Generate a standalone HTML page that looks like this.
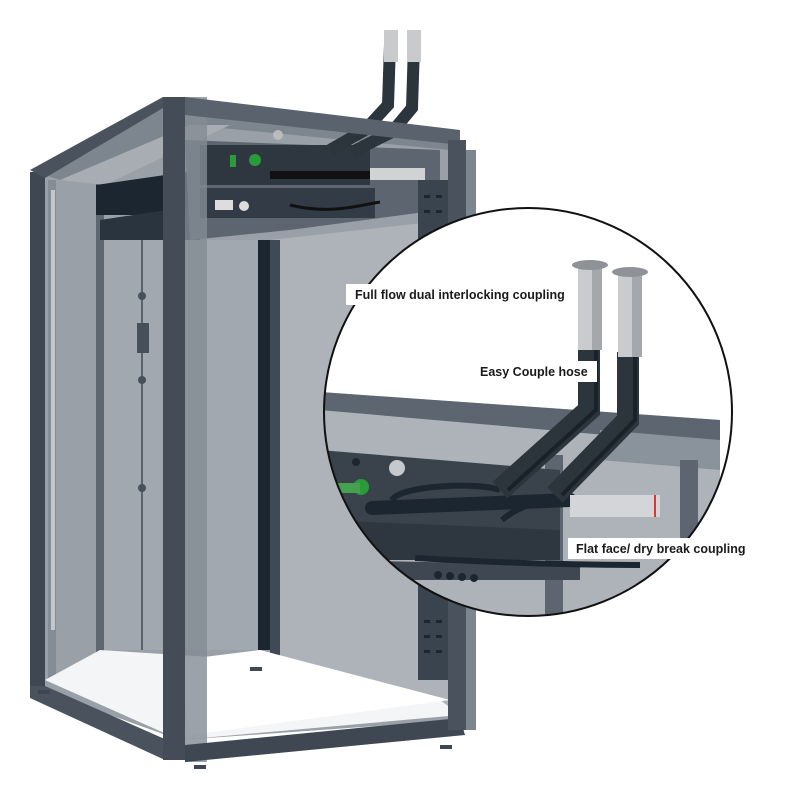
<!DOCTYPE html>
<html><head><meta charset="utf-8"><style>
html,body{margin:0;padding:0;background:#fff}
svg{display:block}
text{font-family:"Liberation Sans",Arial,sans-serif;font-weight:bold;font-size:12.5px;fill:#1a1a1a}
</style></head><body>
<svg width="800" height="800" viewBox="0 0 800 800" xmlns="http://www.w3.org/2000/svg">
<defs>
<clipPath id="cc"><circle cx="528" cy="412" r="204"/></clipPath>
</defs>
<!-- back/inner panels -->
<polygon points="40,178 180,108 460,140 460,720 180,740 40,690" fill="#9aa0a8"/>
<polygon points="100,240 262,240 262,650 100,650" fill="#a2a8b0"/>
<polygon points="270,240 450,220 450,710 270,660" fill="#aeb3ba"/>
<rect x="258" y="240" width="12" height="410" fill="#1b2630"/>
<rect x="270" y="240" width="10" height="420" fill="#3f4a55"/>
<line x1="142" y1="240" x2="142" y2="650" stroke="#5a636d" stroke-width="2"/>
<rect x="137" y="323" width="12" height="30" fill="#46505a"/>
<circle cx="142" cy="296" r="4" fill="#46505a"/><circle cx="142" cy="380" r="4" fill="#46505a"/><circle cx="142" cy="488" r="4" fill="#46505a"/>
<rect x="96" y="180" width="8" height="480" fill="#5e6770"/>
<rect x="48" y="180" width="8" height="500" fill="#848c95"/>
<g fill="#c4c8cd"><rect x="51" y="190" width="4" height="440" /></g>
<!-- floor -->
<polygon points="45,680 180,740 460,715 440,700 260,660 100,650" fill="#f4f5f6"/>
<polygon points="180,660 260,650 450,700 190,735" fill="#fff"/>
<!-- top roof -->
<polygon points="30,170 180,97 460,135 450,150 190,125 60,180" fill="#7d858e"/>
<polygon points="60,180 190,125 230,125 105,185" fill="#a8adb4"/>
<!-- shelf -->
<polygon points="96,185 200,170 200,215 96,215" fill="#1b2630"/>
<polygon points="100,220 200,205 200,240 100,240" fill="#2a343e"/>
<polygon points="185,140 440,150 440,210 290,230 190,240" fill="#5d6670"/>
<rect x="200" y="145" width="170" height="40" fill="#2e3740"/>
<rect x="200" y="188" width="175" height="30" fill="#333c46"/>
<rect x="215" y="200" width="18" height="10" fill="#ddd"/><circle cx="244" cy="206" r="5" fill="#ddd"/>
<circle cx="255" cy="160" r="6" fill="#2a9a3a"/>
<rect x="230" y="155" width="6" height="12" fill="#2a9a3a"/>
<circle cx="278" cy="135" r="5" fill="#bbb"/>
<path d="M270,175 L370,175" stroke="#111" stroke-width="8"/>
<path d="M330,150 L365,130 L388,105 L390,45" stroke="#2c343c" stroke-width="12" fill="none"/>
<path d="M352,152 L392,132 L412,108 L414,45" stroke="#2c343c" stroke-width="12" fill="none"/>
<rect x="384" y="30" width="14" height="32" fill="#c8cacc"/><rect x="407" y="30" width="14" height="32" fill="#c8cacc"/>
<rect x="370" y="168" width="55" height="12" fill="#d0d2d4"/>
<path d="M290,205 C330,215 360,205 380,202" stroke="#111" stroke-width="3" fill="none"/>
<!-- right rail with holes -->
<rect x="418" y="180" width="30" height="500" fill="#3a444e"/>
<g fill="#1b2630">
<rect x="424" y="195" width="6" height="3"/><rect x="436" y="195" width="6" height="3"/>
<rect x="424" y="210" width="6" height="3"/><rect x="436" y="210" width="6" height="3"/>
<rect x="424" y="620" width="6" height="3"/><rect x="436" y="620" width="6" height="3"/>
<rect x="424" y="635" width="6" height="3"/><rect x="436" y="635" width="6" height="3"/>
<rect x="424" y="650" width="6" height="3"/><rect x="436" y="650" width="6" height="3"/>
</g>
<!-- frame posts -->
<polygon points="30,172 45,172 45,690 30,690" fill="#3f4852"/>
<polygon points="30,686 45,686 185,748 185,760 165,760 30,698" fill="#4a535d"/>
<polygon points="163,97 185,97 185,760 163,760" fill="#444d57"/>
<rect x="185" y="97" width="22" height="665" fill="#838b94" opacity="0.8"/>
<polygon points="185,97 460,130 460,145 185,115" fill="#5a636d"/>
<polygon points="185,745 460,718 465,735 185,762" fill="#3f4852"/>
<rect x="448" y="140" width="18" height="590" fill="#4a535d"/>
<rect x="466" y="150" width="10" height="580" fill="#7d858e"/>
<polygon points="30,170 163,97 163,108 45,178" fill="#4a535d"/>
<!-- feet -->
<g fill="#3f4852"><rect x="194" y="765" width="12" height="4"/><rect x="250" y="667" width="12" height="4"/><rect x="38" y="690" width="12" height="4"/><rect x="440" y="745" width="12" height="4"/></g>
<!-- zoom circle -->
<circle cx="528" cy="412" r="204" fill="#fff"/>
<g clip-path="url(#cc)">
<polygon points="320,392 720,420 720,800 320,800" fill="#aeb3ba"/>
<polygon points="320,392 720,420 720,445 320,410" fill="#5d6670"/>
<polygon points="600,430 720,440 720,470 600,460" fill="#8a929b"/>
<rect x="545" y="455" width="18" height="200" fill="#5d6670"/>
<rect x="680" y="460" width="18" height="200" fill="#5d6670"/>
<polygon points="320,450 560,470 560,545 320,545" fill="#3a434c"/>
<polygon points="320,520 560,530 560,560 320,560" fill="#2e3740"/>
<polygon points="320,560 580,565 580,580 320,580" fill="#3f4852"/>
<circle cx="356" cy="462" r="4" fill="#1b2630"/>
<circle cx="397" cy="468" r="8" fill="#c5c8cc"/>
<circle cx="361" cy="487" r="8" fill="#2a9a3a"/>
<rect x="335" y="483" width="25" height="10" fill="#45a050"/>
<path d="M372,508 L570,500" stroke="#1b2630" stroke-width="14" stroke-linecap="round"/>
<path d="M392,500 C400,485 480,482 500,490" stroke="#1b2630" stroke-width="6" fill="none"/>
<path d="M502,520 C520,505 540,500 560,502" stroke="#1b2630" stroke-width="6" fill="none"/>
<path d="M589,345 L589,410 L500,490" stroke="#2c343c" stroke-width="22" fill="none"/>
<path d="M628,352 L628,420 L555,495" stroke="#2c343c" stroke-width="22" fill="none"/>
<path d="M596,345 L596,410 L508,490" stroke="#1a2229" stroke-width="4" fill="none"/>
<path d="M635,352 L635,420 L562,495" stroke="#1a2229" stroke-width="4" fill="none"/>
<rect x="578" y="265" width="24" height="85" fill="#c9cbce"/>
<rect x="618" y="272" width="24" height="85" fill="#c9cbce"/>
<rect x="592" y="265" width="10" height="85" fill="#a4a7ab"/>
<rect x="632" y="272" width="10" height="85" fill="#a4a7ab"/>
<ellipse cx="590" cy="265" rx="18" ry="5" fill="#8e9296"/>
<ellipse cx="630" cy="272" rx="18" ry="5" fill="#8e9296"/>
<rect x="570" y="495" width="90" height="22" fill="#d3d5d8"/>
<line x1="655" y1="495" x2="655" y2="517" stroke="#d33" stroke-width="2"/>
<path d="M415,558 C450,560 540,565 640,565" stroke="#1b2630" stroke-width="6" fill="none"/>
<g fill="#1b2630"><circle cx="438" cy="575" r="4"/><circle cx="450" cy="576" r="4"/><circle cx="462" cy="577" r="4"/><circle cx="474" cy="578" r="4"/></g>
</g>
<circle cx="528" cy="412" r="204" fill="none" stroke="#111" stroke-width="2"/>
<rect x="346" y="284" width="215" height="21" fill="#fff"/>
<text x="355" y="299">Full flow dual interlocking coupling</text>
<rect x="472" y="361" width="125" height="21" fill="#fff"/>
<text x="480" y="376">Easy Couple hose</text>
<rect x="568" y="538" width="175" height="21" fill="#fff"/>
<text x="576" y="553">Flat face/ dry break coupling</text>
</svg>
</body></html>
